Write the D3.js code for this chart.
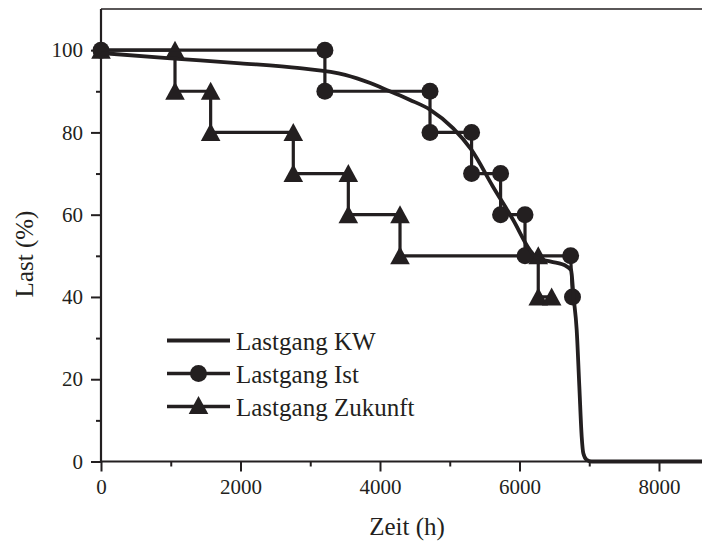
<!DOCTYPE html>
<html><head><meta charset="utf-8">
<script src="https://cdn.jsdelivr.net/npm/d3@7"></script>
<style>body{margin:0;background:#fff}svg{display:block}</style>
</head><body>
<script>
// ---- data ----
const xTickValues = [0, 2000, 4000, 6000, 8000];
const xMinorTicks = [1000, 3000, 5000, 7000];
const yTickValues = [0, 20, 40, 60, 80, 100];
const yMinorTicks = [10, 30, 50, 70, 90];
const seriesNames = ["Lastgang KW", "Lastgang Ist", "Lastgang Zukunft"];
const kwX = [0, 1000, 2000, 2850, 3500, 3860, 4140, 4430, 4720, 5050, 5310, 5620, 5910, 6150, 6250, 6450, 6680, 6740, 6775, 6820, 6858, 6892, 6915, 6963, 7034, 8760];
const kwY = [99.3, 98.0, 96.8, 95.6, 94.0, 92.0, 90.0, 87.9, 85.5, 81.0, 75.8, 66.8, 58.7, 51.4, 49.5, 48.6, 47.4, 46.5, 40, 32, 18.2, 6, 2, 0.4, 0, 0];
const istX = [0, 3210, 3210, 4717, 4717, 5313, 5313, 5729, 5729, 6079, 6079, 6733, 6760];
const istY = [100, 100, 90, 90, 80, 80, 70, 70, 60, 60, 50, 50, 40];
const zukX = [0, 1061, 1061, 1572, 1572, 2757, 2757, 3546, 3546, 4287, 4287, 6269, 6269, 6461];
const zukY = [100, 100, 90, 90, 80, 80, 70, 70, 60, 60, 50, 50, 40, 40];

// ---- layout ----
const W = 702, H = 544;
const ink = "#231f20";
const font = "'Liberation Serif', serif";
const svg = d3.select("body").append("svg").attr("width", W).attr("height", H);

const x = d3.scaleLinear().domain([0, 8760]).range([101, 712]);
const y = d3.scaleLinear().domain([0, 110]).range([461.5, 9]);

// top border
svg.append("line").attr("x1", x(0)).attr("x2", W).attr("y1", y(110)).attr("y2", y(110))
  .attr("stroke", ink).attr("stroke-width", 1.3);

function styleAxis(g) {
  g.select(".domain").remove();
  g.selectAll("line").attr("stroke", ink).attr("stroke-width", 2);
  g.selectAll("text").attr("fill", ink).style("font-family", font).style("font-size", "21px");
}

// minor ticks
svg.append("g").attr("transform", `translate(0,${y(0)})`)
  .call(d3.axisBottom(x).tickValues(xMinorTicks).tickSize(5).tickFormat(""))
  .call(styleAxis);
svg.append("g").attr("transform", `translate(${x(0)},0)`)
  .call(d3.axisLeft(y).tickValues(yMinorTicks).tickSize(5).tickFormat(""))
  .call(styleAxis);
// major ticks
svg.append("g").attr("transform", `translate(0,${y(0)})`)
  .call(d3.axisBottom(x).tickValues(xTickValues).tickSize(10).tickPadding(8).tickFormat(d3.format("d")))
  .call(styleAxis);
svg.append("g").attr("transform", `translate(${x(0)},0)`)
  .call(d3.axisLeft(y).tickValues(yTickValues).tickSize(10).tickPadding(8).tickFormat(d3.format("d")))
  .call(styleAxis);

// axis lines
svg.append("line").attr("x1", x(0)).attr("x2", x(0)).attr("y1", y(110)).attr("y2", y(0) + 1)
  .attr("stroke", ink).attr("stroke-width", 2.2);
svg.append("line").attr("x1", x(0) - 1).attr("x2", W).attr("y1", y(0)).attr("y2", y(0))
  .attr("stroke", ink).attr("stroke-width", 2.2);

// axis titles
svg.append("text").attr("x", 407).attr("y", 535).attr("text-anchor", "middle")
  .style("font-family", font).style("font-size", "25px").attr("fill", ink).text("Zeit (h)");
svg.append("text").attr("transform", "translate(33,254) rotate(-90)").attr("text-anchor", "middle")
  .style("font-family", font).style("font-size", "25px").attr("fill", ink).text("Last (%)");

// series
const plot = svg.append("g");
const lineLin = d3.line().x(d => x(d[0])).y(d => y(d[1]));
const zukData = zukX.map((v, i) => [v, zukY[i]]);
const istData = istX.map((v, i) => [v, istY[i]]);
const kwData = kwX.map((v, i) => [v, kwY[i]]);

const triPath = "M0,-9.5L9.8,8.5L-9.8,8.5Z";

plot.append("path").datum(zukData).attr("d", lineLin).attr("fill", "none")
  .attr("stroke", ink).attr("stroke-width", 3.2);
plot.selectAll(".tri").data(zukData).enter().append("path")
  .attr("transform", d => `translate(${x(d[0])},${y(d[1])})`).attr("d", triPath).attr("fill", ink);

plot.append("path").datum(istData).attr("d", lineLin).attr("fill", "none")
  .attr("stroke", ink).attr("stroke-width", 3.2);
plot.selectAll(".circ").data(istData).enter().append("circle")
  .attr("cx", d => x(d[0])).attr("cy", d => y(d[1])).attr("r", 8.5).attr("fill", ink);

const kwLine = d3.line().x(d => x(d[0])).y(d => y(d[1])).curve(d3.curveMonotoneX);
plot.append("path").datum(kwData).attr("d", kwLine).attr("fill", "none")
  .attr("stroke", ink).attr("stroke-width", 3.8).attr("stroke-linejoin", "round");

// legend
const legRows = [340.5, 373.5, 406.5];
const lg = svg.append("g");
seriesNames.forEach((name, i) => {
  const ry = legRows[i];
  lg.append("line").attr("x1", 167).attr("x2", 230).attr("y1", ry).attr("y2", ry)
    .attr("stroke", ink).attr("stroke-width", i === 0 ? 3.8 : 3.4);
  if (i === 1) lg.append("circle").attr("cx", 198.5).attr("cy", ry).attr("r", 8.5).attr("fill", ink);
  if (i === 2) lg.append("path").attr("transform", `translate(198.5,${ry - 1})`).attr("d", triPath).attr("fill", ink);
  lg.append("text").attr("x", 236).attr("y", ry + 9).style("font-family", font)
    .style("font-size", "25px").attr("fill", ink).text(name);
});
</script>
</body></html>
